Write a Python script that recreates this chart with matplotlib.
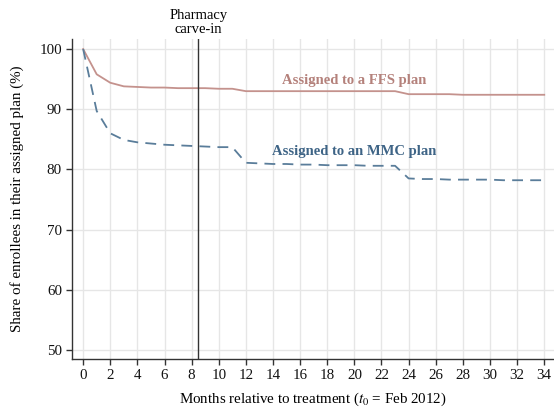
import matplotlib
matplotlib.use("Agg")
import matplotlib.pyplot as plt

plt.rcParams['font.family'] = ['Liberation Serif', 'DejaVu Serif']
plt.rcParams['mathtext.fontset'] = 'stix'

months = list(range(0, 35))
ffs = [100.0, 95.8, 94.4, 93.8, 93.7, 93.6, 93.6, 93.5, 93.5, 93.5, 93.4, 93.4,
       93.0, 93.0, 93.0, 93.0, 93.0, 93.0, 93.0, 93.0, 93.0, 93.0, 93.0, 93.0,
       92.5, 92.5, 92.5, 92.5, 92.4, 92.4, 92.4, 92.4, 92.4, 92.4, 92.4]
mmc = [100.0, 89.7, 86.0, 84.9, 84.5, 84.3, 84.1, 84.0, 83.9, 83.8, 83.7, 83.7,
       81.1, 81.0, 80.9, 80.9, 80.8, 80.8, 80.7, 80.7, 80.7, 80.6, 80.6, 80.6,
       78.5, 78.4, 78.4, 78.3, 78.3, 78.3, 78.3, 78.2, 78.2, 78.2, 78.2]
xticks = list(range(0, 35, 2))
yticks = [50, 60, 70, 80, 90, 100]
event_month = 8.5

ffs_line = '#c4928d'
ffs_text = '#b4817b'
mmc_line = '#5a7d9a'
mmc_text = '#3e6486'

fig = plt.figure(figsize=(5.54, 4.13), dpi=100)
ax = fig.add_axes([0.1305, 0.1308, 0.8695, 0.7748])

ax.plot(months, ffs, color=ffs_line, lw=1.3, zorder=3)
ax.plot(months, mmc, color=mmc_line, lw=1.3, dashes=(6, 4), zorder=3)
ax.axvline(event_month, color='#333333', lw=1.0, zorder=4)

ax.set_xlim(-0.8, 34.72)
ax.set_ylim(48.5, 101.67)
ax.set_xticks(xticks)
ax.set_yticks(yticks)
ax.grid(True, color='#e6e6e6', lw=1.0)
ax.set_axisbelow(True)
for s in ['top', 'right']:
    ax.spines[s].set_visible(False)
for s in ['left', 'bottom']:
    ax.spines[s].set_color('#333333')
    ax.spines[s].set_linewidth(1.0)
ax.tick_params(axis='both', direction='out', length=4, width=1.0,
               color='#333333', labelsize=10.8, labelcolor='#111111')

ax.set_ylabel('Share of enrollees in their assigned plan (%)', fontsize=10.8, labelpad=11)
ax.set_xlabel('Months relative to treatment ($t_0$ = Feb 2012)', fontsize=10.8, labelpad=6)

ax.text(event_month, 102.2, 'Pharmacy\ncarve-in', ha='center', va='bottom',
        fontsize=10.5, linespacing=1.05)
ax.text(20.0, 94.85, 'Assigned to a FFS plan', color=ffs_text, fontsize=10.5,
        fontweight='bold', ha='center', va='center')
ax.text(20.0, 82.9, 'Assigned to an MMC plan', color=mmc_text, fontsize=10.5,
        fontweight='bold', ha='center', va='center')

fig.savefig('out.png', dpi=100)
